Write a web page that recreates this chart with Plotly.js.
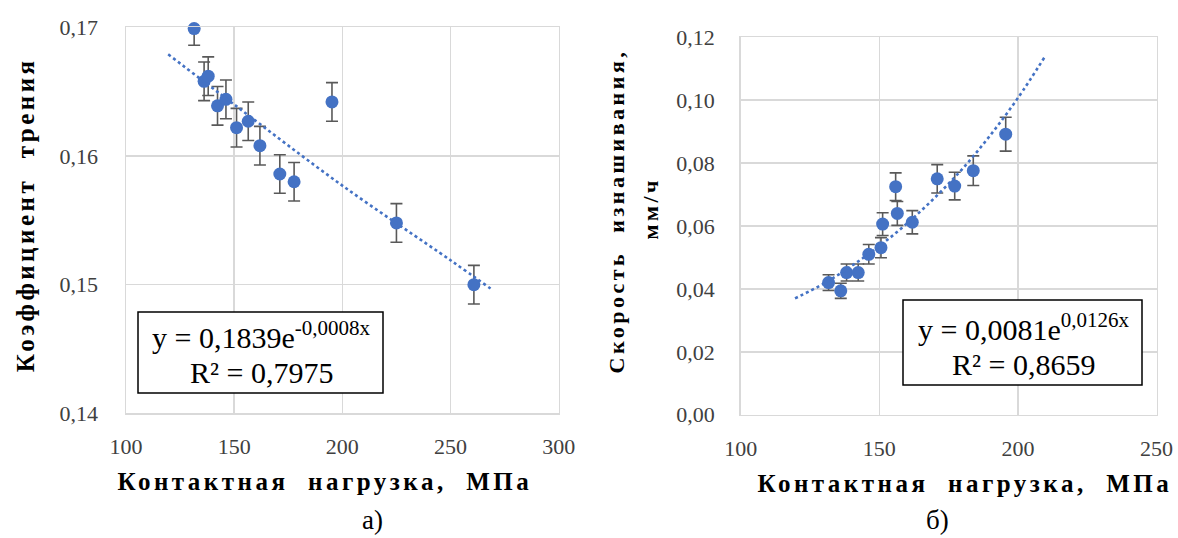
<!DOCTYPE html>
<html>
<head>
<meta charset="utf-8">
<script src="https://cdn.plot.ly/plotly-3.0.1.min.js"></script>
<style>
  html, body { margin: 0; padding: 0; background: #fff; }
  #chart { width: 1178px; height: 538px; }
  .annotation[data-index="0"] text, .annotation[data-index="1"] text,
  .annotation[data-index="2"] text, .annotation[data-index="3"] text,
  .annotation[data-index="4"] text { letter-spacing: 3.5px; }
</style>
</head>
<body>
<div id="chart"></div>
<script>
// ---- Chart a) : friction coefficient vs contact load ----
const loadA = [131.5, 136.1, 138.0, 142.3, 146.2, 151.1, 156.5, 161.9, 171.1, 177.7, 195.2, 225.0, 260.8];
const frictionA = [0.1699, 0.1658, 0.1662, 0.1639, 0.1644, 0.1622, 0.1627, 0.1608, 0.1586, 0.1580, 0.1642, 0.1548, 0.1500];
const frictionErrPlus = [0, 0.0015, 0.0015, 0.0015, 0.0015, 0.0015, 0.0015, 0.0015, 0.0015, 0.0015, 0.0015, 0.0015, 0.0015];
const frictionErrMinus = [0.0013, 0.0015, 0.0015, 0.0015, 0.0015, 0.0015, 0.0015, 0.0015, 0.0015, 0.0015, 0.0015, 0.0015, 0.0015];
const trendLoadA = [119.5, 150, 200, 250, 268.5];
const trendFrictionA = [0.1679, 0.1640, 0.1577, 0.1519, 0.1497];

// ---- Chart б) : wear rate vs contact load ----
const loadB = [131.7, 136.1, 138.2, 142.4, 146.2, 150.6, 151.2, 155.9, 156.5, 161.9, 170.9, 177.2, 183.9, 195.6];
const wearB = [0.0420, 0.0394, 0.0452, 0.0452, 0.0510, 0.0531, 0.0606, 0.0725, 0.0640, 0.0612, 0.0750, 0.0727, 0.0776, 0.0892];
const wearErr = [0.0025, 0.0024, 0.0027, 0.0027, 0.0031, 0.0032, 0.0036, 0.0044, 0.0038, 0.0037, 0.0045, 0.0044, 0.0047, 0.0054];
const trendLoadB = [119.6, 130, 140, 150, 160, 170, 180, 190, 200, 209.5];
const trendWearB = [0.0370, 0.0417, 0.0473, 0.0536, 0.0608, 0.0690, 0.0782, 0.0888, 0.1007, 0.1135];

// ---- Texts ----
const xTitle = 'Контактная  нагрузка,  МПа';
const yTitleA = 'Коэффициент  трения';
const yTitleB1 = 'Скорость  изнашивания,';
const yTitleB2 = 'мм/ч';
const eqA1 = 'y = 0,1839e<sup>-0,0008x</sup>';
const eqA2 = 'R² = 0,7975';
const eqB1 = 'y = 0,0081e<sup>0,0126x</sup>';
const eqB2 = 'R² = 0,8659';
const panelA = 'а)';
const panelB = 'б)';
const xTicksA = [100, 150, 200, 250, 300];
const yTicksA = [0.14, 0.15, 0.16, 0.17];
const xTicksB = [100, 150, 200, 250];
const yTicksB = [0, 0.02, 0.04, 0.06, 0.08, 0.10, 0.12];

const blue = '#4472C4';
const errColor = '#595959';
const serif = "'Liberation Serif'";

const traces = [
  {
    x: loadA, y: frictionA, type: 'scatter', mode: 'markers', xaxis: 'x', yaxis: 'y',
    marker: { color: blue, size: 13 }, cliponaxis: false, showlegend: false,
    error_y: { type: 'data', symmetric: false, array: frictionErrPlus, arrayminus: frictionErrMinus,
               color: errColor, thickness: 1.6, width: 6 }
  },
  {
    x: trendLoadA, y: trendFrictionA, type: 'scatter', mode: 'lines', xaxis: 'x', yaxis: 'y',
    line: { color: blue, width: 2.6, dash: 'dot', shape: 'spline' }, showlegend: false
  },
  {
    x: loadB, y: wearB, type: 'scatter', mode: 'markers', xaxis: 'x2', yaxis: 'y2',
    marker: { color: blue, size: 13 }, cliponaxis: false, showlegend: false,
    error_y: { type: 'data', array: wearErr, color: errColor, thickness: 1.6, width: 6 }
  },
  {
    x: trendLoadB, y: trendWearB, type: 'scatter', mode: 'lines', xaxis: 'x2', yaxis: 'y2',
    line: { color: blue, width: 2.6, dash: 'dot', shape: 'spline' }, showlegend: false
  }
];

const axisCommon = {
  showgrid: true, gridcolor: '#d9d9d9', gridwidth: 1.5,
  showline: true, linecolor: '#d9d9d9', linewidth: 1.5, mirror: true,
  zeroline: false, ticks: '', fixedrange: true,
  tickfont: { family: serif, size: 22, color: '#404040' }
};

const W = 1178, H = 538;
const px = v => v / W;
const py = v => 1 - v / H;

const titleFont = s => ({ family: serif, size: s, color: '#000', weight: 'bold' });
const eqFont = { family: serif, size: 30, color: '#000' };
const ann = (text, x, y, font, extra) => Object.assign({
  text: text, xref: 'paper', yref: 'paper', x: px(x), y: py(y),
  xanchor: 'center', yanchor: 'middle', showarrow: false, font: font
}, extra || {});

const layout = {
  width: W, height: H,
  margin: { l: 0, r: 0, t: 0, b: 0 },
  paper_bgcolor: '#fff', plot_bgcolor: '#fff',
  separators: ', ',
  showlegend: false,
  font: { family: serif },
  xaxis: Object.assign({}, axisCommon, {
    domain: [px(126), px(558.7)], range: [100, 300], tickvals: xTicksA,
    ticklabelstandoff: 13, anchor: 'y'
  }),
  yaxis: Object.assign({}, axisCommon, {
    domain: [py(413.4), py(27.3)], range: [0.14, 0.17], tickvals: yTicksA,
    tickformat: '.2f', ticklabelstandoff: 22, anchor: 'x'
  }),
  xaxis2: Object.assign({}, axisCommon, {
    domain: [px(740.7), px(1156.5)], range: [100, 250], tickvals: xTicksB,
    ticklabelstandoff: 13, anchor: 'y2'
  }),
  yaxis2: Object.assign({}, axisCommon, {
    domain: [py(414.7), py(37.3)], range: [0, 0.12], tickvals: yTicksB,
    tickformat: '.2f', ticklabelstandoff: 20, anchor: 'x2'
  }),
  shapes: [
    { type: 'rect', xref: 'paper', yref: 'paper', x0: px(138), x1: px(383), y0: py(393), y1: py(312),
      line: { color: '#000', width: 1.5 }, fillcolor: '#fff', layer: 'above' },
    { type: 'rect', xref: 'paper', yref: 'paper', x0: px(903), x1: px(1142), y0: py(385), y1: py(300),
      line: { color: '#000', width: 1.5 }, fillcolor: '#fff', layer: 'above' }
  ],
  annotations: [
    ann(xTitle, 324.7, 481, titleFont(25)),
    ann(xTitle, 965, 483, titleFont(25)),
    ann(yTitleA, 25, 215, titleFont(25), { textangle: -90 }),
    ann(yTitleB1, 616, 211, titleFont(22), { textangle: -90 }),
    ann(yTitleB2, 649.5, 208, titleFont(22), { textangle: -90 }),
    ann(eqA1, 261, 335, eqFont),
    ann(eqA2, 261, 372, eqFont),
    ann(eqB1, 1023, 327, eqFont),
    ann(eqB2, 1023, 364, eqFont),
    ann(panelA, 372.7, 520, { family: serif, size: 27, color: '#000' }),
    ann(panelB, 937, 520, { family: serif, size: 27, color: '#000' })
  ]
};

Plotly.newPlot('chart', traces, layout, { staticPlot: true, displayModeBar: false });
</script>
</body>
</html>
